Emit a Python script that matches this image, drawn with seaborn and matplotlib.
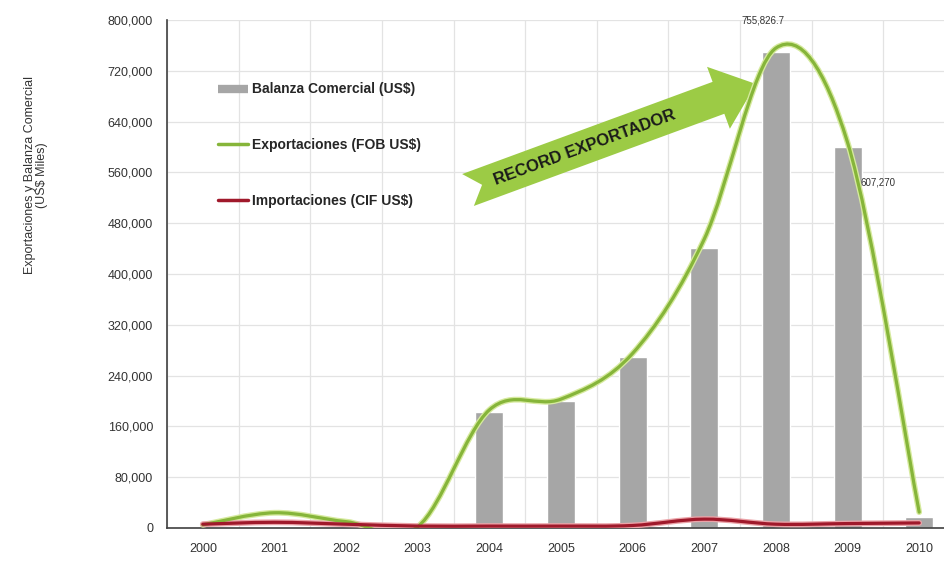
"""
Exportaciones, importaciones y balanza comercial 2000-2010.
Barras grises = balanza, curvas suavizadas = exportaciones / importaciones.
"""

import matplotlib
matplotlib.use("Agg")
import matplotlib.pyplot as plt
import numpy as np
import pandas as pd
import seaborn as sns
from matplotlib.lines import Line2D
from matplotlib.patches import PathPatch, Polygon
from matplotlib.path import Path
from matplotlib.ticker import FixedLocator, FuncFormatter, MultipleLocator

YEARS = ["2000", "2001", "2002", "2003", "2004", "2005",
         "2006", "2007", "2008", "2009", "2010"]
BALANZA = [0, 0, 0, 0, 183000, 200000, 270000, 441000, 750000, 600270, 17000]
EXPORTACIONES = [5000, 24000, 10000, 2000, 186000, 203000, 275000, 455000,
                 755826.7, 607270, 25000]
IMPORTACIONES = [6000, 9000, 6000, 3000, 3000, 3000, 4000, 14000, 6000, 7000, 8000]

LABELS = ["Balanza Comercial (US$)", "Exportaciones (FOB US$)", "Importaciones (CIF US$)"]
PEAK_LABELS = {8: "755,826.7", 9: "607,270"}

W, H = 945, 562
GRAY = "#A6A6A6"
GREEN = "#86B53A"
RED = "#A0192B"
ARROW_GREEN = "#9CCB45"


def smooth_path(xs, ys):
    # Excel-like smoothed line (Catmull-Rom through the data points)
    pts = np.column_stack([xs, ys]).astype(float)
    verts, codes = [pts[0]], [Path.MOVETO]
    n = len(pts)
    for i in range(n - 1):
        p0, p1 = pts[max(i - 1, 0)], pts[i]
        p2, p3 = pts[i + 1], pts[min(i + 2, n - 1)]
        verts += [p1 + (p2 - p0) / 6, p2 - (p3 - p1) / 6, p2]
        codes += [Path.CURVE4] * 3
    return Path(verts, codes)


def px(fig_x, fig_y):
    return fig_x / W, 1 - fig_y / H


def main():
    sns.set_style("white")
    plt.rcParams["font.family"] = ["Liberation Sans Narrow", "Liberation Sans", "DejaVu Sans"]

    df = pd.DataFrame({"year": YEARS, "balanza": BALANZA})

    fig = plt.figure(figsize=(W / 100, H / 100), dpi=100)
    ax = fig.add_axes([167 / W, 1 - 528 / H, 788 / W, 508 / H])

    sns.barplot(data=df, x="year", y="balanza", color=GRAY, saturation=1,
                width=0.39, ax=ax, zorder=2)

    xs = np.arange(len(YEARS))
    for vals, col, glow in [(EXPORTACIONES, GREEN, "#D6EA9E"), (IMPORTACIONES, RED, "#EBA3A8")]:
        path = smooth_path(xs, vals)
        ax.add_patch(PathPatch(path, fill=False, edgecolor=glow, lw=4.2, zorder=3,
                               capstyle="round"))
        ax.add_patch(PathPatch(path, fill=False, edgecolor=col, lw=2.3, zorder=4,
                               capstyle="round"))

    for i, txt in PEAK_LABELS.items():
        off = (-9, 20) if i == 8 else (22, -29)
        ax.annotate(txt, xy=(i, EXPORTACIONES[i]), xytext=off, textcoords="offset points",
                    ha="center", va="center", fontsize=7, color="#333333", zorder=6)

    # "RECORD EXPORTADOR" arrow (picture pixel geometry)
    tail = np.array([468.0, 190.0])
    tip = np.array([756.0, 84.0])
    u = (tip - tail) / np.linalg.norm(tip - tail)
    nrm = np.array([-u[1], u[0]])
    L = np.linalg.norm(tip - tail)
    shape = [(0, -17), (L - 40, -17), (L - 40, -33), (L, 0), (L - 40, 33),
             (L - 40, 17), (0, 17), (15, 0)]
    poly = [px(*(tail + s * u + t * nrm)) for s, t in shape]
    ax.add_patch(Polygon(poly, closed=True, facecolor=ARROW_GREEN, edgecolor="none",
                         transform=fig.transFigure, zorder=2.5))
    ang = np.degrees(np.arctan2(-(tip - tail)[1], (tip - tail)[0]))
    cx, cy = tail + 124 * u
    fig.text(*px(cx, cy), "RECORD EXPORTADOR", rotation=ang, rotation_mode="anchor",
             ha="center", va="center", fontsize=12, fontweight="bold", color="#1A1A1A")

    ax.set_xlim(-0.5, len(YEARS) - 0.5)
    ax.set_ylim(0, 800000)
    ax.yaxis.set_major_locator(MultipleLocator(80000))
    ax.yaxis.set_major_formatter(FuncFormatter(lambda v, p: f"{v:,.0f}"))
    ax.xaxis.set_minor_locator(FixedLocator(np.arange(-0.5, len(YEARS), 1.0)))
    ax.tick_params(axis="x", which="major", length=0, pad=11, labelsize=9, colors="#333333")
    ax.tick_params(axis="x", which="minor", length=5, width=1, direction="out", color="#404040")
    ax.tick_params(axis="y", length=4, width=1, direction="out", color="#404040", pad=6,
                   labelsize=9, labelcolor="#333333")
    ax.grid(False)
    ax.grid(True, axis="y", which="major", color="#E3E3E3", lw=0.9, zorder=0)
    ax.grid(True, axis="x", which="minor", color="#E3E3E3", lw=0.9, zorder=0)
    ax.set_axisbelow(True)
    for side in ["top", "right"]:
        ax.spines[side].set_visible(False)
    for side in ["left", "bottom"]:
        ax.spines[side].set_color("#404040")
        ax.spines[side].set_linewidth(1.2)
    ax.set_xlabel("")
    ax.set_ylabel("")

    fig.text(*px(36, 175), "Exportaciones y Balanza Comercial\n(US$ Miles)", rotation=90,
             ha="center", va="center", fontsize=9, color="#333333", linespacing=1.05)

    handles = [Line2D([], [], color=GRAY, lw=6, solid_capstyle="butt"),
               Line2D([], [], color=GREEN, lw=2.5),
               Line2D([], [], color=RED, lw=2.5)]
    ax.legend(handles, LABELS, loc="upper left", bbox_to_anchor=px(206, 70),
              bbox_transform=fig.transFigure, frameon=False, handlelength=2.1,
              handletextpad=0.3, labelspacing=3.0, prop={"weight": "bold", "size": 10})

    fig.savefig("out.png", dpi=100)
    plt.close(fig)


if __name__ == "__main__":
    main()
